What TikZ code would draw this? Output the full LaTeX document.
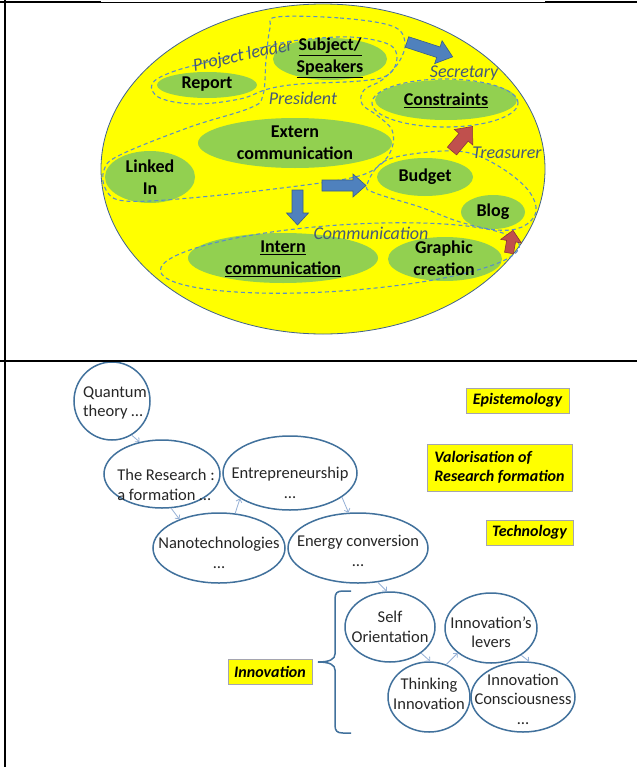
\documentclass[tikz,border=0pt]{standalone}
\usepackage{fontspec}
\setmainfont{Carlito}
\usetikzlibrary{shapes.geometric,arrows.meta}
\definecolor{ellyel}{HTML}{FFFF00}
\definecolor{ellgreen}{HTML}{92D050}
\definecolor{bigedge}{HTML}{41628F}
\definecolor{dashc}{HTML}{5B8FC7}
\definecolor{lblc}{HTML}{44597A}
\definecolor{bluefill}{HTML}{4F81BD}
\definecolor{blueedge}{HTML}{385D8A}
\definecolor{redfill}{HTML}{C0504D}
\definecolor{rededge}{HTML}{8C3836}
\definecolor{ovaledge}{HTML}{41719C}
\definecolor{arrc}{HTML}{95B0D6}
\definecolor{txtgrey}{HTML}{262626}
\definecolor{boxedge}{HTML}{A5A5B0}
\begin{document}
\begin{tikzpicture}[x=1bp,y=-1bp,
  gell/.style={ellipse, fill=ellgreen, inner sep=0pt},
  ttxt/.style={font=\fontsize{18bp}{22bp}\selectfont\bfseries, align=center, inner sep=0pt},
  grpline/.style={draw=dashc, dash pattern=on 4bp off 3bp, line width=1.1bp},
  role/.style={font=\fontsize{18bp}{22bp}\selectfont\itshape, text=lblc, inner sep=0pt},
  barrowb/.style={fill=bluefill, draw=blueedge, line width=0.6bp},
  barrowr/.style={fill=redfill, draw=rededge, line width=0.6bp},
  oval/.style={ellipse, draw=ovaledge, line width=1.5bp, fill=white, inner sep=0pt},
  btxt/.style={font=\fontsize{16.5bp}{19.5bp}\selectfont, text=txtgrey, align=center, inner sep=0pt},
  conn/.style={draw=arrc, line width=0.8bp, -{Straight Barb[length=3bp,width=6bp]}},
  ybox/.style={rectangle, fill=ellyel, draw=boxedge, line width=0.8bp, inner sep=0pt, font=\fontsize{16bp}{19bp}\selectfont\bfseries\itshape},
  tabline/.style={draw=black, line width=2bp}]
\useasboundingbox (0,0) rectangle (637,767);
\fill[white] (0,0) rectangle (637,767);

% ---------- top cell ----------
\node[ellipse, fill=ellyel, draw=bigedge, line width=0.8bp, minimum width=444bp, minimum height=330bp, inner sep=0pt] (bigell) at (323,169) {};

\node[gell, minimum width=100bp, minimum height=26bp] (report) at (207,85) {};
\node[gell, minimum width=114bp, minimum height=42bp] (subject) at (330,59) {};
\node[gell, minimum width=142bp, minimum height=40bp] (constraints) at (446,100) {};
\node[gell, minimum width=194bp, minimum height=50bp] (extern) at (295,143) {};
\node[gell, minimum width=90bp, minimum height=52bp] (linkedin) at (150,177) {};
\node[gell, minimum width=96bp, minimum height=38bp] (budget) at (425,177) {};
\node[gell, minimum width=64bp, minimum height=34bp] (blog) at (493,212) {};
\node[gell, minimum width=190bp, minimum height=50bp] (intern) at (283,258) {};
\node[gell, minimum width=114bp, minimum height=44bp] (graphic) at (445,259) {};

% dashed group outlines
\draw[grpline] plot[smooth cycle, tension=0.6] coordinates {(152,84) (172,72) (215,60) (268,46) (300,40) (350,37) (388,44) (397,58) (388,75) (360,81) (300,84) (268,89) (240,99) (195,104) (160,98)};
\draw[grpline] plot[smooth cycle, tension=0.6] coordinates {(277,17) (340,18) (392,26) (405,42) (399,62) (382,80) (364,90) (362,104) (378,116) (392,130) (392,148) (380,165) (355,177) (290,187) (190,198) (125,201) (106,190) (104,170) (120,155) (190,127) (250,108) (263,95) (266,60) (270,28)};
\draw[grpline] (445,103) ellipse [x radius=73bp, y radius=24bp];
\draw[grpline] plot[smooth cycle, tension=0.6] coordinates {(367,185) (383,162) (420,153) (465,152) (500,167) (528,190) (536,212) (522,227) (497,230) (460,222) (420,207) (375,193)};
\draw[grpline, rotate around={4:(340,258)}] (340,258) ellipse [x radius=180bp, y radius=33bp];

% texts
\node[ttxt] (report-t) at (207,84) {Report};
\node[ttxt] (subject-t) at (330,58) {\underline{Subject/}\\\underline{Speakers}};
\node[ttxt] (constraints-t) at (446,100) {\underline{Constraints}};
\node[ttxt] (extern-t) at (295,143) {Extern\\communication};
\node[ttxt] (linkedin-t) at (150,177.5) {Linked\\In};
\node[ttxt] (budget-t) at (425,177) {Budget};
\node[ttxt] (blog-t) at (493,212) {Blog};
\node[ttxt] (intern-t) at (283,258.5) {\underline{Intern}\\\underline{communication}};
\node[ttxt] (graphic-t) at (444,258.5) {Graphic\\creation};

\node[role, rotate=12] (pl) at (243,56) {Project leader};
\node[role] (pres) at (303,98) {President};
\node[role] (sec) at (464,73) {Secretary};
\node[role] (treas) at (507,153) {Treasurer};
\node[role] (comm) at (371,233) {Communication};

% block arrows
\begin{scope}[shift={(407,42)}, rotate=-18]
  \draw[barrowb] (0,-5.5) -- (33,-5.5) -- (33,-12) -- (48,0) -- (33,12) -- (33,5.5) -- (0,5.5) -- cycle;
\end{scope}
\begin{scope}[shift={(322,185.5)}]
  \draw[barrowb] (0,-5.5) -- (31,-5.5) -- (31,-11.5) -- (44,0) -- (31,11.5) -- (31,5.5) -- (0,5.5) -- cycle;
\end{scope}
\begin{scope}[shift={(297.5,190)}, rotate=-90]
  \draw[barrowb] (0,-5.5) -- (23,-5.5) -- (23,-11) -- (35,0) -- (23,11) -- (23,5.5) -- (0,5.5) -- cycle;
\end{scope}
\begin{scope}[shift={(452,151)}, rotate=50]
  \draw[barrowr] (0,-6) -- (18,-6) -- (18,-12) -- (32,0) -- (18,12) -- (18,6) -- (0,6) -- cycle;
\end{scope}
\begin{scope}[shift={(509,253)}, rotate=80]
  \draw[barrowr] (0,-4.5) -- (12,-4.5) -- (12,-10.5) -- (23,0) -- (12,10.5) -- (12,4.5) -- (0,4.5) -- cycle;
\end{scope}

% ---------- bottom cell ----------
\node[oval, minimum width=76bp, minimum height=78bp] (quantum) at (112,401) {};
\node[oval, minimum width=116bp, minimum height=68bp] (research) at (162,474) {};
\node[oval, minimum width=134bp, minimum height=74bp] (entre) at (290,473) {};
\node[oval, minimum width=132bp, minimum height=70bp] (nano) at (219,548) {};
\node[oval, minimum width=140bp, minimum height=70bp] (energy) at (358,548) {};
\node[oval, minimum width=90bp, minimum height=70bp] (selfo) at (390,627) {};
\node[oval, minimum width=92bp, minimum height=70bp] (levers) at (491,628) {};
\node[oval, minimum width=82bp, minimum height=70bp] (think) at (429,697) {};
\node[oval, minimum width=104bp, minimum height=70bp] (consc) at (523,697) {};

\node[btxt, align=left] (quantum-t) at (115,403) {Quantum\\theory …};
\node[btxt, align=left] (research-t) at (166,485) {The Research :\\a formation …};
\node[btxt] (entre-t) at (290,483) {Entrepreneurship\\…};
\node[btxt] (nano-t) at (219,553) {Nanotechnologies\\…};
\node[btxt] (energy-t) at (358,551) {Energy conversion\\…};
\node[btxt] (selfo-t) at (390,627) {Self\\Orientation};
\node[btxt] (levers-t) at (491,632) {Innovation’s\\levers};
\node[btxt] (think-t) at (429,694) {Thinking\\Innovation};
\node[btxt] (consc-t) at (523,699) {Innovation\\Consciousness\\…};

\draw[conn] (quantum.-60) -- (research.125);
\draw[conn] (research.-75) -- (nano.144);
\draw[conn] (nano.65) -- (entre.207);
\draw[conn] (entre.-25) -- (energy.105);
\draw[conn] (energy.-60) -- (selfo.95);
\draw[conn] (selfo.-40) -- (think.88);
\draw[conn] (think.62) -- (levers.217);
\draw[conn] (levers.-42) -- (consc.80);

\node[ybox, minimum width=103bp, minimum height=25bp] (epis) at (517.5,400.5) {Epistemology};
\node[ybox, minimum width=145bp, minimum height=47bp, align=left] (valor) at (499.5,467.5) {Valorisation of\\Research formation};
\node[ybox, minimum width=87bp, minimum height=25bp] (techno) at (529.5,532.5) {Technology};
\node[ybox, minimum width=84bp, minimum height=25bp] (innov) at (270,671.5) {Innovation};

\draw[draw=ovaledge, line width=1.5bp] (351,591) -- (343,591) .. controls (337,591) and (335,593) .. (335,599) -- (335,654) .. controls (335,659) and (330,662) .. (318,662) .. controls (330,662) and (335,665) .. (335,670) -- (335,725) .. controls (335,731) and (337,733) .. (343,733) -- (351,733);

% ---------- table rules ----------
\draw[tabline] (5,0) -- (5,767);
\draw[tabline] (0,361) -- (637,361);
\draw[tabline] (0,2) -- (101,2);
\draw[tabline] (545,2) -- (637,2);
\draw[black, line width=0.8bp] (101,2) -- (545,2);
\end{tikzpicture}
\end{document}
